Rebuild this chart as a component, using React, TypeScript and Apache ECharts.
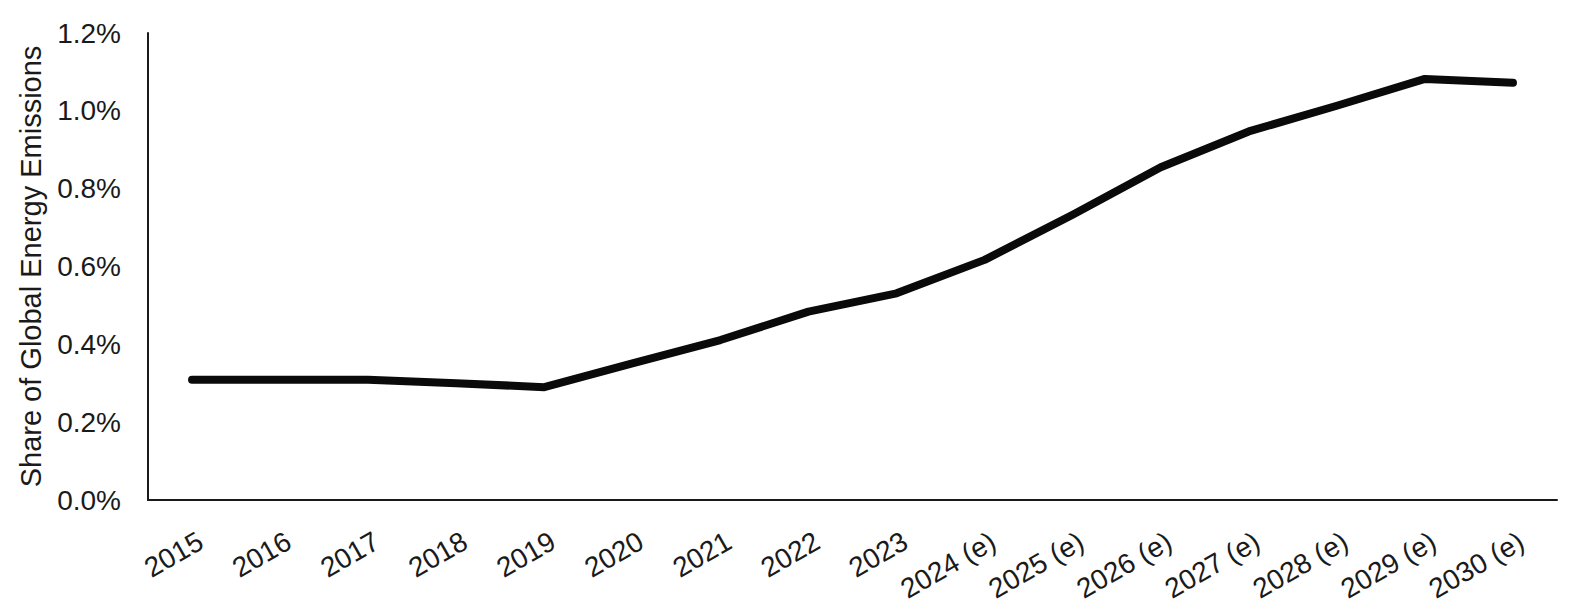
import React, { useEffect, useRef } from "react";
import * as echarts from "echarts";

const categories = [
  "2015", "2016", "2017", "2018", "2019", "2020", "2021", "2022", "2023",
  "2024 (e)", "2025 (e)", "2026 (e)", "2027 (e)", "2028 (e)", "2029 (e)", "2030 (e)",
];
const shareValues = [
  0.309, 0.309, 0.309, 0.300, 0.290, 0.351, 0.411, 0.484, 0.531,
  0.617, 0.733, 0.855, 0.947, 1.013, 1.082, 1.072,
];
const yAxisTitle = "Share of Global Energy Emissions";
const yMin = 0;
const yMax = 1.2;
const yStep = 0.2;

export default function App() {
  const ref = useRef<HTMLDivElement>(null);
  useEffect(() => {
    if (!ref.current) return;
    const chart = echarts.init(ref.current, null, { renderer: "svg" });
    const font = "'Liberation Sans', Arial, sans-serif";
    chart.setOption({
      animation: false,
      backgroundColor: "#ffffff",
      grid: { left: 134, right: 5, top: 25, bottom: 105, containLabel: false },
      xAxis: {
        type: "category",
        data: categories,
        boundaryGap: true,
        axisLine: { show: true, lineStyle: { color: "#1a1a1a", width: 2 } },
        axisTick: { show: false },
        axisLabel: {
          rotate: 30,
          interval: 0,
          margin: 44,
          padding: [0, -10, 0, 0],
          color: "#1a1a1a",
          fontSize: 28,
          fontFamily: font,
        },
        splitLine: { show: false },
      },
      yAxis: {
        type: "value",
        min: yMin,
        max: yMax,
        interval: yStep,
        name: yAxisTitle,
        nameLocation: "middle",
        nameGap: 103,
        nameRotate: 90,
        nameTextStyle: { color: "#1a1a1a", fontSize: 29, fontFamily: font },
        axisLine: { show: true, lineStyle: { color: "#1a1a1a", width: 2 } },
        axisTick: { show: false },
        splitLine: { show: false },
        axisLabel: {
          margin: 27,
          color: "#1a1a1a",
          fontSize: 28,
          fontFamily: font,
          formatter: (v: number) => v.toFixed(1) + "%",
        },
      },
      series: [
        {
          type: "line",
          data: shareValues,
          symbol: "none",
          lineStyle: { color: "#0a0a0a", width: 8, cap: "round", join: "round" },
        },
      ],
    });
    return () => chart.dispose();
  }, []);
  return <div ref={ref} style={{ width: 1554, height: 597 }} />;
}
